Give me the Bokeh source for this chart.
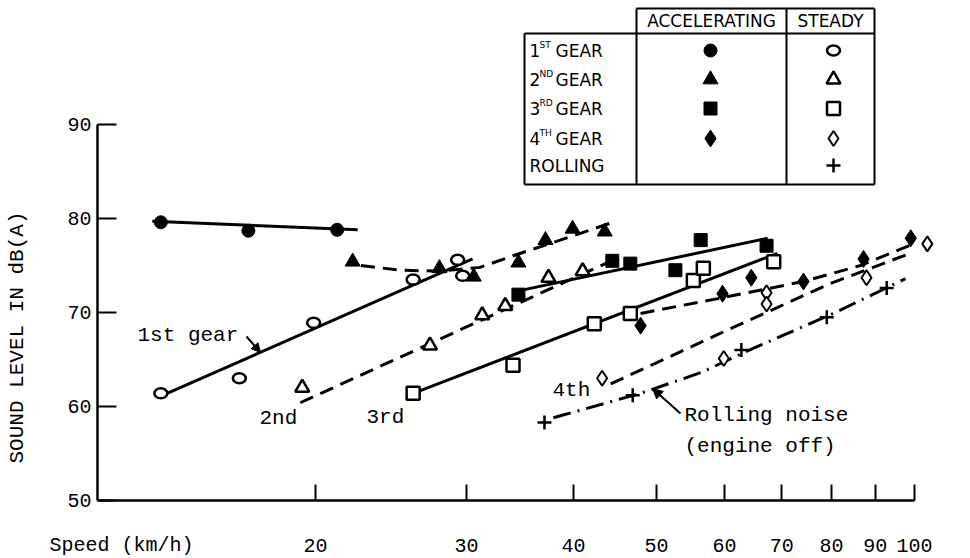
import math
from bokeh.plotting import figure
from bokeh.models import Range1d, FixedTicker, Label, Arrow, NormalHead
from bokeh.embed import file_html
from bokeh.resources import INLINE

# ---------------- data ----------------
x_ticks = [20, 30, 40, 50, 60, 70, 80, 90, 100]
x_tick_labels = ["20", "30", "40", "50", "60", "70", "80", "90", "100"]
y_ticks = [50, 60, 70, 80, 90]
y_tick_labels = ["50", "60", "70", "80", "90"]

# 1st gear
g1_acc_speed = [13.2, 16.7, 21.2]
g1_acc_db = [79.6, 78.7, 78.8]
g1_acc_fit_speed = [12.9, 22.4]
g1_acc_fit_db = [79.7, 78.8]
g1_std_speed = [13.2, 16.3, 19.9, 26.0, 29.3, 29.7]
g1_std_db = [61.4, 63.0, 68.9, 73.5, 75.6, 73.9]
g1_std_fit_speed = [13.2, 30.5]
g1_std_fit_db = [61.1, 75.7]

# 2nd gear
g2_acc_speed = [22.1, 27.9, 30.6, 34.5, 37.1, 39.9, 43.5]
g2_acc_db = [75.4, 74.7, 73.8, 75.3, 77.7, 78.9, 78.6]
g2_acc_fit_speed = [22.6, 25.1, 28.0, 31.1, 34.7, 38.6, 44.8]
g2_acc_fit_db = [75.0, 74.5, 74.4, 74.8, 76.3, 77.7, 79.7]
g2_std_speed = [19.3, 27.2, 31.3, 33.3, 37.4, 41.0]
g2_std_db = [62.0, 66.5, 69.7, 70.7, 73.7, 74.4]
g2_std_fit_speed = [19.2, 44.8]
g2_std_fit_db = [60.4, 75.7]

# 3rd gear
g3_acc_speed = [34.5, 44.4, 46.6, 52.6, 56.3, 67.2]
g3_acc_db = [71.9, 75.5, 75.2, 74.5, 77.7, 77.1]
g3_acc_fit_speed = [34.5, 67.4]
g3_acc_fit_db = [72.3, 77.9]
g3_std_speed = [26.0, 34.0, 42.3, 46.6, 55.2, 56.7, 68.5]
g3_std_db = [61.4, 64.4, 68.8, 69.9, 73.4, 74.7, 75.4]
g3_std_fit_speed = [26.0, 69.2]
g3_std_fit_db = [61.4, 76.3]

# 4th gear
g4_acc_speed = [47.9, 59.7, 64.5, 74.2, 87.2, 99.0]
g4_acc_db = [68.6, 72.0, 73.7, 73.3, 75.7, 77.9]
g4_acc_fit_speed = [47.9, 59.9, 74.2, 86.5, 99.7]
g4_acc_fit_db = [69.9, 71.6, 73.3, 75.0, 77.3]
g4_std_speed = [43.2, 59.9, 67.2, 67.2, 87.9, 103.5]
g4_std_db = [63.0, 65.1, 72.1, 70.9, 73.7, 77.3]
g4_std_fit_speed = [44.2, 59.4, 79.8, 98.9]
g4_std_fit_db = [62.4, 67.8, 73.1, 76.3]

# rolling (engine off)
roll_speed = [37.0, 46.9, 62.8, 79.0, 92.8]
roll_db = [58.3, 61.2, 66.0, 69.5, 72.6]
roll_fit_speed = [37.9, 47.9, 56.3, 64.9, 80.4, 97.6]
roll_fit_db = [58.8, 61.4, 63.6, 66.2, 69.9, 73.6]

# ---------------- layout helpers (pixel -> axis units) ----------------
W, H = 970, 558
AXIS_L, AXIS_B = 97, 500
PX_X20, PX_PER_DEC = 315, 857
PX_PER_DB = 9.4


def fx(px):
    return 20 * 10 ** ((px - PX_X20) / PX_PER_DEC)


def fy(py):
    return 50 + (AXIS_B - py) / PX_PER_DB


MONO = "Liberation Mono"
SANS = "DejaVu Sans"
K = "black"

p = figure(width=W, height=H, x_axis_type="log",
           x_range=Range1d(fx(0), fx(W)), y_range=Range1d(fy(H), fy(0)),
           output_backend="svg", toolbar_location=None, title=None,
           min_border_left=0, min_border_right=0, min_border_top=0,
           min_border_bottom=0)
p.grid.visible = False
p.outline_line_color = None
p.background_fill_color = "white"
p.border_fill_color = "white"

# axes, drawn at fixed positions inside the full-window frame
p.xaxis.fixed_location = 50
p.yaxis.fixed_location = fx(AXIS_L)
p.xaxis.ticker = FixedTicker(ticks=x_ticks, minor_ticks=[])
p.xaxis.major_label_overrides = dict(zip(x_ticks, x_tick_labels))
p.xaxis.bounds = (fx(AXIS_L), 100)
p.xaxis.major_tick_in = 16
p.xaxis.major_tick_out = 0
p.xaxis.minor_tick_in = 0
p.xaxis.minor_tick_out = 0
p.xaxis.major_label_standoff = 38
p.yaxis.ticker = FixedTicker(ticks=y_ticks, minor_ticks=[])
p.yaxis.major_label_overrides = dict(zip(y_ticks, y_tick_labels))
p.yaxis.bounds = (50, 90)
p.yaxis.major_tick_in = 19
p.yaxis.major_tick_out = 0
p.yaxis.minor_tick_in = 0
p.yaxis.minor_tick_out = 0
p.yaxis.major_label_standoff = 6
for ax in (p.xaxis, p.yaxis):
    ax.axis_line_width = 2.5
    ax.axis_line_color = K
    ax.major_tick_line_width = 2
    ax.major_tick_line_color = K
    ax.major_label_text_font = MONO
    ax.major_label_text_font_size = "20px"
    ax.major_label_text_color = K

DASH = "14 8"
DASHDOT = "18 7 2 7"
LW = 3

# fitted lines
p.line(g1_acc_fit_speed, g1_acc_fit_db, line_width=LW, color=K)
p.line(g1_std_fit_speed, g1_std_fit_db, line_width=LW, color=K)
p.line(g2_acc_fit_speed, g2_acc_fit_db, line_width=LW, color=K, line_dash=DASH)
p.line(g2_std_fit_speed, g2_std_fit_db, line_width=LW, color=K, line_dash=DASH)
p.line(g3_acc_fit_speed, g3_acc_fit_db, line_width=LW, color=K)
p.line(g3_std_fit_speed, g3_std_fit_db, line_width=LW, color=K)
p.line(g4_acc_fit_speed, g4_acc_fit_db, line_width=LW, color=K, line_dash=DASH)
p.line(g4_std_fit_speed, g4_std_fit_db, line_width=LW, color=K, line_dash=DASH)
p.line(roll_fit_speed, roll_fit_db, line_width=LW, color=K, line_dash=DASHDOT)


def acc_circle(xs, ys):
    p.scatter(xs, ys, marker="circle", size=13, fill_color=K, line_color=K)


def std_circle(xs, ys):
    p.ellipse(x=xs, y=ys, width=13, height=10, width_units="screen", height_units="screen",
              fill_color="white", line_color=K, line_width=2.5)


def mark(xs, ys, marker, size, filled, lw=2.5):
    p.scatter(xs, ys, marker=marker, size=size, fill_color=K if filled else "white",
              line_color=K, line_width=lw if not filled else 1)


acc_circle(g1_acc_speed, g1_acc_db)
std_circle(g1_std_speed, g1_std_db)
mark(g2_acc_speed, g2_acc_db, "triangle", 15, True)
mark(g2_std_speed, g2_std_db, "triangle", 14, False)
mark(g3_acc_speed, g3_acc_db, "square", 13, True)
mark(g3_std_speed, g3_std_db, "square", 13, False)
mark(g4_acc_speed, g4_acc_db, "diamond", 17, True)
mark(g4_std_speed, g4_std_db, "diamond", 15, False, 2)
mark(roll_speed, roll_db, "cross", 14, False, 2.5)

# ---------------- annotations ----------------


def lab(px, py, text, font=MONO, size="21px", align="left", baseline="middle", angle=0):
    p.add_layout(Label(x=fx(px), y=fy(py), text=text, text_font=font, text_font_size=size,
                       text_align=align, text_baseline=baseline, text_color=K, angle=angle))


lab(137, 335, "1st gear")
lab(259, 418, "2nd")
lab(366, 417, "3rd")
lab(552, 390, "4th")
lab(684, 415, "Rolling noise")
lab(684, 446, "(engine off)")
lab(49, 545, "Speed (km/h)", size="20px")
lab(17, 337, "SOUND LEVEL IN dB(A)", align="center", angle=math.pi / 2)

p.add_layout(Arrow(x_start=fx(246), y_start=fy(336), x_end=fx(260), y_end=fy(352),
                   line_width=2, line_color=K,
                   end=NormalHead(size=9, fill_color=K, line_color=K)))
p.add_layout(Arrow(x_start=fx(680), y_start=fy(413), x_end=fx(652), y_end=fy(388),
                   line_width=2, line_color=K,
                   end=NormalHead(size=10, fill_color=K, line_color=K)))

# ---------------- legend table ----------------
TL, T1, T2, TR = 524, 636, 786, 874
TT, TH, TB = 8, 33, 184
seg_x0 = [T1, TL, TL, TL, T1, T2, TR]
seg_y0 = [TT, TH, TB, TH, TT, TT, TT]
seg_x1 = [TR, TR, TR, TL, T1, T2, TR]
seg_y1 = [TT, TH, TB, TB, TB, TB, TB]
p.segment([fx(v) for v in seg_x0], [fy(v) for v in seg_y0],
          [fx(v) for v in seg_x1], [fy(v) for v in seg_y1], line_width=2, line_color=K)

lab((T1 + T2) / 2, 20, "ACCELERATING", font=SANS, size="17px", align="center")
lab((T2 + TR) / 2, 20, "STEADY", font=SANS, size="17px", align="center")

row_y = [50, 79, 108, 138, 165]
row_num = ["1", "2", "3", "4"]
row_sup = ["ST", "ND", "RD", "TH"]
for ry, n, s in zip(row_y, row_num, row_sup):
    lab(529, ry, n, font=SANS, size="17px")
    lab(539, ry - 6, s, font=SANS, size="9px")
    lab(555, ry, "GEAR", font=SANS, size="17px")
lab(529, row_y[4], "ROLLING", font=SANS, size="17px")

AX, SX = 710, 833
acc_circle([fx(AX)], [fy(row_y[0])])
std_circle([fx(SX)], [fy(row_y[0])])
mark([fx(AX)], [fy(row_y[1])], "triangle", 15, True)
mark([fx(SX)], [fy(row_y[1])], "triangle", 14, False)
mark([fx(AX)], [fy(row_y[2])], "square", 13, True)
mark([fx(SX)], [fy(row_y[2])], "square", 13, False)
mark([fx(AX)], [fy(row_y[3])], "diamond", 17, True)
mark([fx(SX)], [fy(row_y[3])], "diamond", 15, False, 2)
mark([fx(SX)], [fy(row_y[4])], "cross", 14, False, 2.5)

open("out.html", "w").write(file_html(p, INLINE))
